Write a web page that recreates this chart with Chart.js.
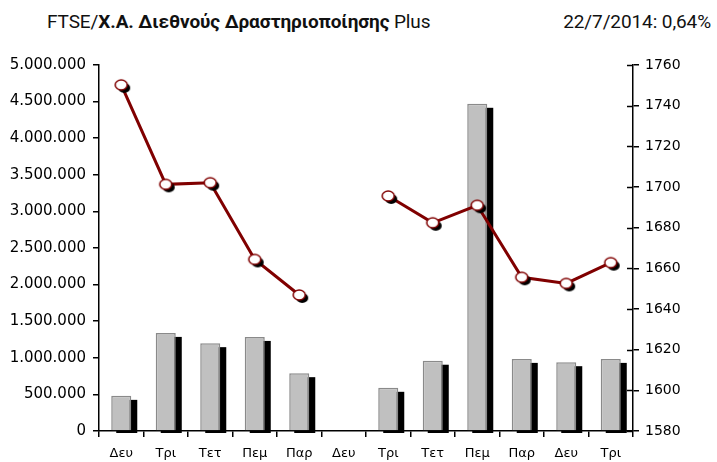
<!DOCTYPE html>
<html>
<head>
<meta charset="utf-8">
<script src="https://cdn.jsdelivr.net/npm/chart.js@4/dist/chart.umd.min.js"></script>
<style>
  html, body { margin: 0; padding: 0; background: #fff; }
  #wrap { position: relative; width: 717px; height: 462px; }
  .head { position: absolute; top: 10px; font-family: 'Liberation Sans Narrow', 'Arial Narrow', Roboto, sans-serif; font-size: 19px; letter-spacing: -0.1px; color: #111; white-space: nowrap; }
  #title { left: 47px; }
  #stamp { right: 6px; }
  canvas { position: absolute; left: 0; top: 0; }
</style>
</head>
<body>
<div id="wrap">
  <div id="title" class="head">FTSE/<b>Χ.Α. Διεθνούς Δραστηριοποίησης</b> Plus</div>
  <div id="stamp" class="head">22/7/2014: 0,64%</div>
  <canvas id="myChart" width="717" height="462"></canvas>
</div>
<script>
const days = ['Δευ', 'Τρι', 'Τετ', 'Πεμ', 'Παρ', 'Δευ', 'Τρι', 'Τετ', 'Πεμ', 'Παρ', 'Δευ', 'Τρι']
// volume (left axis), index close (right axis); no trading on the 6th day
const volume = [480000, 1340000, 1200000, 1285000, 790000, null, 590000, 960000, 4470000, 985000, 940000, 985000]
const closes = [1750.2, 1701.3, 1702.1, 1664.4, 1646.9, null, 1695.6, 1682.4, 1691.0, 1655.6, 1652.6, 1662.8]

const volumeTicks = { min: 0, max: 5000000, step: 500000 }
const indexTicks = { min: 1580, max: 1760, step: 20 }

// marker: white ellipse with dark red rim and a black drop shadow
const marker = document.createElement('canvas')
marker.width = 24
marker.height = 24
const m = marker.getContext('2d')
m.fillStyle = '#000'
m.beginPath()
m.ellipse(15, 15, 6, 5, 0, 0, Math.PI * 2)
m.fill()
m.fillStyle = '#fff'
m.strokeStyle = '#800000'
m.lineWidth = 1.5
m.beginPath()
m.ellipse(12, 12, 6, 5, 0, 0, Math.PI * 2)
m.fill()
m.stroke()

const fmt = v => String(v).replace(/\B(?=(\d{3})+(?!\d))/g, '.')

const barShadow = {
  id: 'barShadow',
  beforeDatasetDraw(chart, args) {
    if (args.meta.type !== 'bar') return
    const { ctx, chartArea: a } = chart
    ctx.save()
    ctx.beginPath()
    ctx.rect(a.left, a.top, a.width, a.height + 2)
    ctx.clip()
    ctx.fillStyle = '#000'
    args.meta.data.forEach(el => {
      const p = el.getProps(['x', 'y', 'base', 'width'], true)
      if (p.y == null || isNaN(p.y)) return
      ctx.fillRect(p.x - p.width / 2 + 5, p.y + 4, p.width + 1, p.base - p.y)
    })
    ctx.restore()
  },
}

// right axis ticks cross the axis line
const crossTicks = {
  id: 'crossTicks',
  afterDraw(chart) {
    const s = chart.scales.y1
    const ctx = chart.ctx
    ctx.save()
    ctx.strokeStyle = '#000'
    ctx.lineWidth = 1.5
    s.ticks.forEach(t => {
      const y = Math.round(s.getPixelForValue(t.value)) + 0.5
      ctx.beginPath()
      ctx.moveTo(s.left - 6, y)
      ctx.lineTo(s.left, y)
      ctx.stroke()
    })
    ctx.restore()
  },
}

const ctx = document.getElementById('myChart').getContext('2d')
const myChart = new Chart(ctx, {
  data: {
    labels: days,
    datasets: [
      {
        type: 'line',
        data: closes,
        yAxisID: 'y1',
        borderColor: '#800000',
        borderWidth: 3,
        pointStyle: marker,
        pointRadius: 6,
        spanGaps: false,
        order: 0,
      },
      {
        type: 'bar',
        data: volume,
        yAxisID: 'y',
        backgroundColor: '#c0c0c0',
        borderColor: '#8a8a8a',
        borderWidth: 1.5,
        barPercentage: 0.45,
        categoryPercentage: 1,
        order: 1,
      },
    ],
  },
  options: {
    responsive: false,
    animation: false,
    events: [],
    layout: { padding: { top: 65, left: 0, right: 0, bottom: 0 } },
    plugins: { legend: { display: false }, tooltip: { enabled: false } },
    scales: {
      x: {
        grid: { drawOnChartArea: false, color: '#000', lineWidth: 1.5, tickLength: 6, offset: true },
        border: { color: '#000', width: 1.5 },
        ticks: { color: '#000', font: { family: 'DejaVu Sans', size: 13 }, padding: 9, maxRotation: 0, autoSkip: false },
        afterFit: s => { s.height = 31 },
      },
      y: {
        position: 'left',
        min: volumeTicks.min,
        max: volumeTicks.max,
        grid: { drawOnChartArea: false, color: '#000', lineWidth: 1.5, tickLength: 6 },
        border: { color: '#000', width: 1.5 },
        ticks: { stepSize: volumeTicks.step, color: '#000', font: { family: 'DejaVu Sans', size: 15 }, padding: 7, callback: v => fmt(v) },
        afterFit: s => { s.width = 99 },
      },
      y1: {
        position: 'right',
        min: indexTicks.min,
        max: indexTicks.max,
        grid: { drawOnChartArea: false, color: '#000', lineWidth: 1.5, tickLength: 6 },
        border: { color: '#000', width: 1.5 },
        ticks: { stepSize: indexTicks.step, color: '#000', font: { family: 'DejaVu Sans', size: 14 }, padding: 6, callback: v => String(v) },
        afterFit: s => { s.width = 84 },
      },
    },
  },
  plugins: [barShadow, crossTicks],
})
</script>
</body>
</html>
